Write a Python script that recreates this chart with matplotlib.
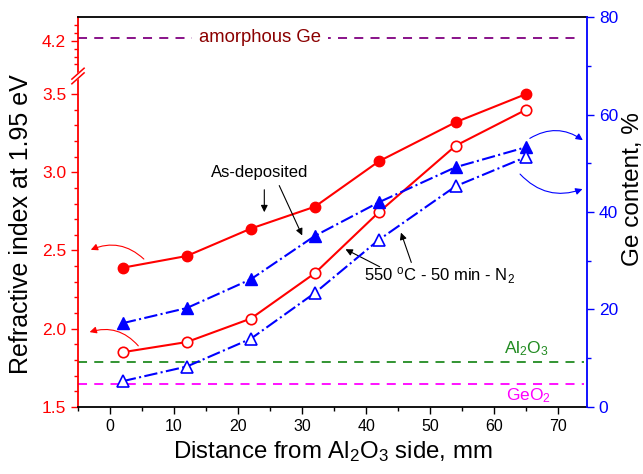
import numpy as np
import matplotlib
matplotlib.use('Agg')
import matplotlib.pyplot as plt
from matplotlib.ticker import FixedLocator, MultipleLocator

plt.rcParams['font.family'] = ['Liberation Sans', 'DejaVu Sans']
plt.rcParams['mathtext.fontset'] = 'custom'
plt.rcParams['mathtext.rm'] = 'Liberation Sans'
plt.rcParams['mathtext.it'] = 'Liberation Sans:italic'

# distance from Al2O3 side, mm
distance = [2, 12, 22, 32, 42, 54, 65]
# refractive index at 1.95 eV
n_as_dep = [2.39, 2.465, 2.64, 2.78, 3.07, 3.32, 3.50]
n_annealed = [1.85, 1.915, 2.065, 2.355, 2.745, 3.17, 3.40]
# Ge content, %
ge_as_dep = [17.2, 20.3, 26.2, 35.1, 42.0, 49.2, 53.3]
ge_annealed = [5.3, 8.3, 14.0, 23.4, 34.3, 45.3, 51.3]
# reference refractive indices
n_amorph_ge = 4.22
n_al2o3 = 1.79
n_geo2 = 1.65

RED = '#ff0000'
BLUE = '#0000ff'

# broken left axis: 3.615 .. 3.976 is cut out
lo_break, hi_break = 3.615, 3.976
shift = hi_break - lo_break


def fwd(y):
    y = np.asarray(y, dtype=float)
    return np.where(y <= lo_break, y, np.where(y >= hi_break, y - shift, lo_break))


def inv(v):
    v = np.asarray(v, dtype=float)
    return np.where(v <= lo_break, v, v + shift)


fig = plt.figure(figsize=(6.43, 4.74), dpi=100)
ax = fig.add_axes([0.1213, 0.1414, 0.7916, 0.8227])
ax.set_yscale('function', functions=(fwd, inv))
ax.set_xlim(-5, 74.5)
ax.set_ylim(1.5, 4.353)

ax2 = ax.twinx()
ax2.set_ylim(0, 80)

# reference lines
ax.hlines(n_amorph_ge, -5, 73.5, colors='#800080', linestyles=(0, (5, 4)), lw=1.3)
ax.hlines(n_al2o3, -5, 74, colors='#228b22', linestyles=(0, (5, 4)), lw=1.3)
ax.hlines(n_geo2, -5, 74, colors='#ff00ff', linestyles=(0, (5, 4)), lw=1.3)
ax.text(23.5, n_amorph_ge, 'amorphous Ge', color='#8b0000', fontsize=13.3,
        ha='center', va='center', bbox=dict(fc='white', ec='none', pad=5))
ax.text(65, 1.81, 'Al$_2$O$_3$', color='#228b22', fontsize=12.5, ha='center', va='bottom')
ax.text(65.3, 1.63, 'GeO$_2$', color='#ff00ff', fontsize=12.5, ha='center', va='top')

# refractive index curves
ax.plot(distance, n_as_dep, '-', color=RED, lw=1.5, marker='o', ms=7.5)
ax.plot(distance, n_annealed, '-', color=RED, lw=1.5, marker='o', ms=7.5,
        mfc='white', mec=RED, mew=1.2)

# Ge content curves
ax2.plot(distance, ge_as_dep, '-.', color=BLUE, lw=1.5, marker='^', ms=8)
ax2.plot(distance, ge_annealed, '-.', color=BLUE, lw=1.5, marker='^', ms=8,
         mfc='white', mec=BLUE, mew=1.2)

# annotations
arr = dict(arrowstyle='-|>', color='black', lw=0.8, mutation_scale=10)
ax.text(23.4, 3.0, 'As-deposited', fontsize=12, ha='center', va='center')
ax.annotate('', xy=(24.1, 2.727), xytext=(24.1, 2.906), arrowprops=arr)
ax.annotate('', xy=(30.2, 2.58), xytext=(26.25, 2.931), arrowprops=arr)
ax.text(39.6, 2.337, '550 $^{\\rm o}$C - 50 min - N$_2$', fontsize=12, ha='left', va='center')
ax.annotate('', xy=(36.4, 2.516), xytext=(42.5, 2.388), arrowprops=arr)
ax.annotate('', xy=(45.3, 2.631), xytext=(47.2, 2.407), arrowprops=arr)

red_arr = dict(arrowstyle='-|>', color=RED, lw=0.8, mutation_scale=10,
               connectionstyle='arc3,rad=0.35')
ax.annotate('', xy=(-3.4, 2.497), xytext=(5.6, 2.433), arrowprops=red_arr)
ax.annotate('', xy=(-3.6, 1.973), xytext=(4.7, 1.877), arrowprops=red_arr)
blue_up = dict(arrowstyle='-|>', color=BLUE, lw=0.8, mutation_scale=10,
               connectionstyle='arc3,rad=-0.35')
blue_dn = dict(arrowstyle='-|>', color=BLUE, lw=0.8, mutation_scale=10,
               connectionstyle='arc3,rad=0.35')
ax2.annotate('', xy=(74.2, 54.4), xytext=(65.2, 54.8), arrowprops=blue_up)
ax2.annotate('', xy=(74.2, 44.9), xytext=(63.75, 48.2), arrowprops=blue_dn)

# ticks
ax.yaxis.set_major_locator(FixedLocator([1.5, 2.0, 2.5, 3.0, 3.5, 4.2]))
minor = [round(v, 2) for v in np.arange(1.6, 3.45, 0.1) if round(v * 10) % 5 != 0]
minor += [4.05, 4.1, 4.15, 4.25, 4.3]
ax.yaxis.set_minor_locator(FixedLocator(minor))
ax.yaxis.set_major_formatter(plt.FuncFormatter(lambda v, p: f'{v:.1f}'))
ax.xaxis.set_major_locator(MultipleLocator(10))
ax.xaxis.set_minor_locator(MultipleLocator(5))
ax2.yaxis.set_major_locator(MultipleLocator(20))
ax2.yaxis.set_minor_locator(MultipleLocator(10))

ax.tick_params(axis='y', which='both', direction='out', colors=RED, labelsize=12.5, width=1)
ax.tick_params(axis='y', which='major', length=5)
ax.tick_params(axis='y', which='minor', length=3)
ax.tick_params(axis='x', which='both', direction='out', labelsize=11.5, width=1)
ax.tick_params(axis='x', which='major', length=5)
ax.tick_params(axis='x', which='minor', length=3)
ax2.tick_params(axis='y', which='both', direction='out', colors=BLUE, labelsize=12.5, width=1)
ax2.tick_params(axis='y', which='major', length=5)
ax2.tick_params(axis='y', which='minor', length=3)

ax.spines['left'].set_color(RED)
ax.spines['left'].set_linewidth(1.3)
ax2.spines['right'].set_color(BLUE)
ax2.spines['right'].set_linewidth(1.3)
ax2.spines['left'].set_visible(False)
for s in ('top', 'bottom'):
    ax.spines[s].set_linewidth(1.3)
    ax2.spines[s].set_visible(False)
ax.spines['right'].set_visible(False)

# break marks on the left spine
by = 1 - (76 - 17) / 390.0
ax.plot([-0.012, 0.012], [by - 0.012, by + 0.012], transform=ax.transAxes,
        color='white', lw=4, clip_on=False, zorder=5)
for d in (-0.006, 0.006):
    ax.plot([-0.012, 0.012], [by - 0.014 + d, by + 0.014 + d], transform=ax.transAxes,
            color=RED, lw=1.1, clip_on=False, zorder=6)

ax.set_xlabel('Distance from Al$_2$O$_3$ side, mm', fontsize=17.3)
ax.set_ylabel('Refractive index at 1.95 eV', fontsize=18)
ax2.set_ylabel('Ge content, %', fontsize=17.5)
ax.xaxis.set_label_coords(0.5, -0.083)
ax.yaxis.set_label_coords(-0.088, 0.47)
ax2.yaxis.set_label_coords(1.068, 0.56)

fig.savefig('out.png', dpi=100)
